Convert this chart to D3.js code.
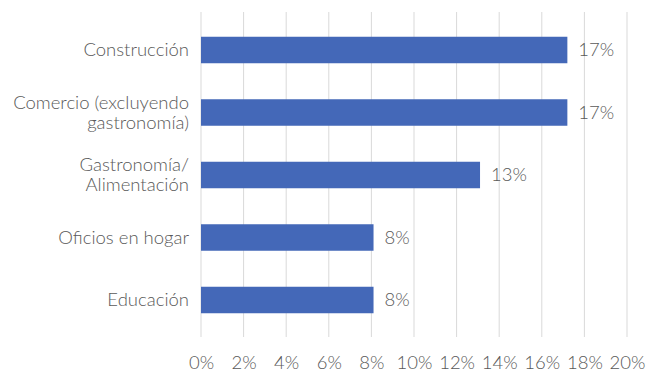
<!DOCTYPE html>
<html>
<head>
<meta charset="utf-8">
<script src="https://cdn.jsdelivr.net/npm/d3@7"></script>
<style>
  body { margin: 0; background: #fff; }
  text { font-family: "Lato", "Open Sans", sans-serif; font-weight: 300; fill: #595959; }
</style>
</head>
<body>
<div id="chart"></div>
<script>
// categories (each entry is the lines of the label) and values in %
var categories = [
    ["Construcción"],
    ["Comercio (excluyendo", "gastronomía)"],
    ["Gastronomía/", "Alimentación"],
    ["Oficios en hogar"],
    ["Educación"]
];
var values = [17.2, 17.2, 13.1, 8.1, 8.1];
var valueLabels = ["17%", "17%", "13%", "8%", "8%"];
var xTicks = [0, 2, 4, 6, 8, 10, 12, 14, 16, 18, 20];

var width = 646, height = 374;
var fontSize = "18.5px";

var svg = d3.select("#chart")
    .append("svg")
    .attr("width", width)
    .attr("height", height);

// x scale, 0% to 20%
var x = d3.scaleLinear()
    .domain([0, 20])
    .range([201, 627]);

// y bands
var y = d3.scaleBand()
    .domain(d3.range(categories.length))
    .range([18.75, 331.25])
    .paddingInner(0.576)
    .paddingOuter(0.288);

// vertical grid lines
svg.append("g")
    .selectAll("line")
    .data(xTicks)
    .enter()
    .append("line")
    .attr("x1", function (d) { return x(d) })
    .attr("x2", function (d) { return x(d) })
    .attr("y1", 12)
    .attr("y2", 337)
    .attr("stroke", "#d9d9d9")
    .attr("stroke-width", 1);

// x axis tick labels
var xAxis = svg.append("g")
    .attr("transform", "translate(0,337)")
    .call(d3.axisBottom(x)
        .tickValues(xTicks)
        .tickSize(0)
        .tickPadding(0)
        .tickFormat(function (d) { return d + "%" }));
xAxis.select(".domain").remove();
xAxis.selectAll("text")
    .attr("y", 0)
    .attr("dy", "32px")
    .style("font-size", fontSize)
    .style("font-family", "Lato, sans-serif")
    .style("font-weight", "300")
    .attr("fill", "#595959");

// bars
svg.append("g")
    .selectAll("rect")
    .data(values)
    .enter()
    .append("rect")
    .attr("x", x(0))
    .attr("y", function (d, i) { return y(i) })
    .attr("width", function (d) { return x(d) - x(0) })
    .attr("height", y.bandwidth())
    .attr("fill", "#4468b8");

// value labels
svg.append("g")
    .selectAll("text")
    .data(values)
    .enter()
    .append("text")
    .attr("x", function (d) { return x(d) + 11 })
    .attr("y", function (d, i) { return y(i) + y.bandwidth() / 2 })
    .attr("dy", "0.35em")
    .style("font-size", fontSize)
    .text(function (d, i) { return valueLabels[i] });

// category labels
var lineH = 20;
var cat = svg.append("g")
    .selectAll("text")
    .data(categories)
    .enter()
    .append("text")
    .attr("text-anchor", "end")
    .style("font-size", fontSize)
    .attr("y", function (d, i) {
        return y(i) + y.bandwidth() / 2 - (d.length - 1) * lineH / 2
    });
cat.selectAll("tspan")
    .data(function (d) { return d })
    .enter()
    .append("tspan")
    .attr("x", 189)
    .attr("dy", function (d, j) { return j === 0 ? "0.35em" : lineH })
    .text(function (d) { return d });
</script>
</body>
</html>
